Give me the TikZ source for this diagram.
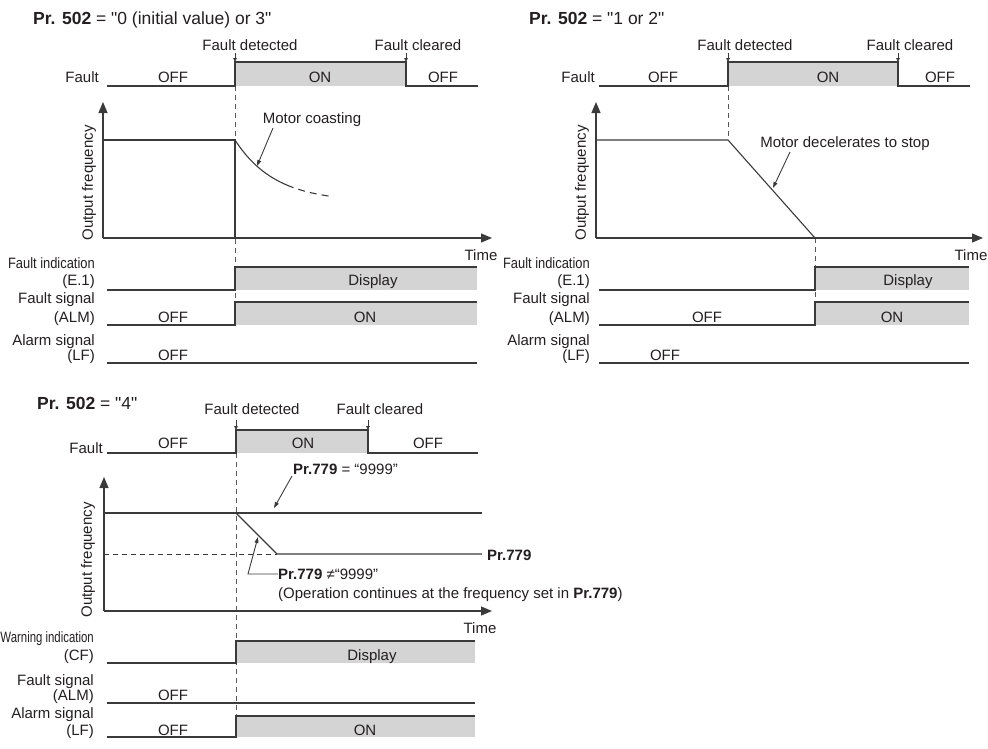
\documentclass[tikz,border=0pt]{standalone}
\usepackage{fontspec}
\setmainfont{Liberation Sans}[Ligatures=TeXOff]
\usetikzlibrary{arrows.meta}
\definecolor{lnc}{HTML}{3A3A3A}
\definecolor{sgc}{HTML}{D4D4D4}
\definecolor{txc}{HTML}{231F20}
\begin{document}
\begin{tikzpicture}[x=1pt,y=-1pt,
  font=\fontsize{15}{18}\selectfont, text=txc,
  ln/.style={draw=lnc, line width=1.1pt},
  dsh/.style={draw=lnc!85, line width=1pt, dash pattern=on 5pt off 4pt},
  axis/.style={draw=lnc, line width=1.2pt, -{Triangle[length=11pt,width=9pt]}},
  tickar/.style={draw=lnc, line width=0.8pt, -{Triangle[length=4pt,width=3.5pt]}},
  ann/.style={draw=lnc, line width=0.9pt, -{Triangle[length=6pt,width=4pt]}},
  lbl/.style={anchor=base east, inner sep=0pt},
  txt/.style={anchor=base, inner sep=0pt},
  ttl/.style={anchor=base west, inner sep=0pt, font=\fontsize{17.5}{20}\selectfont},
  ofl/.style={rotate=90, inner sep=0pt}]
\useasboundingbox (0,0) rectangle (988,748);

%================ Panel A: Pr.502 = 0 or 3 ================
\node[ttl] (a-title) at (33,24) {\textbf{Pr. 502} = "0 (initial value) or 3"};
\draw[dsh] (235,86) -- (235,302);
% Fault row
\fill[sgc] (235,62) rectangle (406,86);
\draw[ln] (107,86) -- (235,86) -- (235,62) -- (406,62) -- (406,86) -- (478,86);
\node[lbl] (a-fault) at (99,82) {Fault};
\node[txt] (a-off1) at (173,82) {OFF};
\node[txt] (a-on) at (320,82) {ON};
\node[txt] (a-off2) at (443,82) {OFF};
\node[txt] (a-fd) at (250,50) {Fault detected};
\node[txt] (a-fc) at (418,50) {Fault cleared};
\coordinate (a-fd1) at (235,53); \coordinate (a-fd2) at (235,62);
\coordinate (a-fc1) at (406,53); \coordinate (a-fc2) at (406,62);
\draw[tickar] (a-fd1) -- (a-fd2);
\draw[tickar] (a-fc1) -- (a-fc2);
% axes
\coordinate (a-o) at (103,238);
\coordinate (a-yt) at (103,102);
\coordinate (a-xt) at (492,238);
\draw[axis] (a-o) -- (a-yt);
\draw[axis] (a-o) -- (a-xt);
\draw[ln] (103,140) -- (235,140) -- (235,238);
\draw[ln] plot[domain=0:52, samples=40, variable=\t] ({235+\t},{140+62*(1-exp(-\t/40))});
\draw[draw=lnc, line width=1.1pt, dash pattern=on 7pt off 5pt] plot[domain=52:95, samples=20, variable=\t] ({235+\t},{140+62*(1-exp(-\t/40))});
\node[ofl] (a-of) at (89,183) {Output frequency};
\node[txt] (a-mc) at (312,123) {Motor coasting};
\coordinate (a-mc1) at (273,128); \coordinate (a-mc2) at (257,166);
\draw[ann] (a-mc1) -- (a-mc2);
\node[txt] (a-time) at (481,260) {Time};
% E.1 row
\fill[sgc] (235,267) rectangle (477,290);
\draw[ln] (107,290) -- (235,290) -- (235,267) -- (477,267);
\node[lbl] (a-fi) at (95,268) {\scalebox{0.86}[1]{Fault indication}};
\node[lbl] (a-e1) at (95,285) {(E.1)};
\node[txt] (a-disp) at (373,285) {Display};
% ALM row
\fill[sgc] (235,302) rectangle (477,325);
\draw[ln] (107,325) -- (235,325) -- (235,302) -- (477,302);
\node[lbl] (a-fs) at (95,303) {Fault signal};
\node[lbl] (a-alm) at (95,322) {(ALM)};
\node[txt] (a-aoff) at (173,322) {OFF};
\node[txt] (a-aon) at (365,322) {ON};
% LF row
\draw[ln] (107,363) -- (477,363);
\node[lbl] (a-as) at (95,345) {Alarm signal};
\node[lbl] (a-lf) at (95,360) {(LF)};
\node[txt] (a-loff) at (173,360) {OFF};

%================ Panel B: Pr.502 = 1 or 2 ================
\node[ttl] (b-title) at (529,24) {\textbf{Pr. 502} = "1 or 2"};
\draw[dsh] (728,86) -- (728,140);
\draw[dsh] (815,238) -- (815,302);
\fill[sgc] (728,62) rectangle (898,86);
\draw[ln] (599,86) -- (728,86) -- (728,62) -- (898,62) -- (898,86) -- (970,86);
\node[lbl] (b-fault) at (595,82) {Fault};
\node[txt] (b-off1) at (663,82) {OFF};
\node[txt] (b-on) at (828,82) {ON};
\node[txt] (b-off2) at (940,82) {OFF};
\node[txt] (b-fd) at (745,50) {Fault detected};
\node[txt] (b-fc) at (910,50) {Fault cleared};
\coordinate (b-fd1) at (728,53); \coordinate (b-fd2) at (728,62);
\coordinate (b-fc1) at (898,53); \coordinate (b-fc2) at (898,62);
\draw[tickar] (b-fd1) -- (b-fd2);
\draw[tickar] (b-fc1) -- (b-fc2);
\coordinate (b-o) at (596,238);
\coordinate (b-yt) at (596,102);
\coordinate (b-xt) at (983,238);
\draw[axis] (b-o) -- (b-yt);
\draw[axis] (b-o) -- (b-xt);
\draw[ln] (596,140) -- (728,140) -- (815,238);
\node[ofl] (b-of) at (582,183) {Output frequency};
\node[txt] (b-md) at (845,147) {Motor decelerates to stop};
\coordinate (b-md1) at (790,152); \coordinate (b-md2) at (773,188);
\draw[ann] (b-md1) -- (b-md2);
\node[txt] (b-time) at (971,260) {Time};
\fill[sgc] (815,267) rectangle (969,290);
\draw[ln] (599,290) -- (815,290) -- (815,267) -- (969,267);
\node[lbl] (b-fi) at (590,268) {\scalebox{0.86}[1]{Fault indication}};
\node[lbl] (b-e1) at (590,285) {(E.1)};
\node[txt] (b-disp) at (908,285) {Display};
\fill[sgc] (815,302) rectangle (969,325);
\draw[ln] (599,325) -- (815,325) -- (815,302) -- (969,302);
\node[lbl] (b-fs) at (590,303) {Fault signal};
\node[lbl] (b-alm) at (590,322) {(ALM)};
\node[txt] (b-aoff) at (707,322) {OFF};
\node[txt] (b-aon) at (892,322) {ON};
\draw[ln] (599,363) -- (969,363);
\node[lbl] (b-as) at (590,345) {Alarm signal};
\node[lbl] (b-lf) at (590,360) {(LF)};
\node[txt] (b-loff) at (665,360) {OFF};

%================ Panel C: Pr.502 = 4 ================
\node[ttl] (c-title) at (37,409) {\textbf{Pr. 502} = "4"};
\draw[dsh] (236,453) -- (236,716);
\fill[sgc] (236,430) rectangle (368,453);
\draw[ln] (107,453) -- (236,453) -- (236,430) -- (368,430) -- (368,453) -- (478,453);
\node[lbl] (c-fault) at (103,453) {Fault};
\node[txt] (c-off1) at (173,448) {OFF};
\node[txt] (c-on) at (303,448) {ON};
\node[txt] (c-off2) at (428,448) {OFF};
\node[txt] (c-fd) at (252,414) {Fault detected};
\node[txt] (c-fc) at (380,414) {Fault cleared};
\coordinate (c-fd1) at (236,420); \coordinate (c-fd2) at (236,430);
\coordinate (c-fc1) at (368,420); \coordinate (c-fc2) at (368,430);
\draw[tickar] (c-fd1) -- (c-fd2);
\draw[tickar] (c-fc1) -- (c-fc2);
\coordinate (c-o) at (104,611);
\coordinate (c-yt) at (104,477);
\coordinate (c-xt) at (492,611);
\draw[axis] (c-o) -- (c-yt);
\draw[axis] (c-o) -- (c-xt);
\draw[ln] (104,513) -- (482,513);
\draw[ln] (236,513) -- (277,554) -- (482,554);
\draw[draw=lnc, line width=1pt, dash pattern=on 5pt off 4pt] (104,554) -- (277,554);
\node[ofl] (c-of) at (88,560) {Output frequency};
\node[anchor=base west, inner sep=0pt] (c-p1) at (293,474) {\textbf{Pr.779} = “9999”};
\coordinate (c-p1a) at (292,476); \coordinate (c-p1b) at (274,508);
\draw[ann] (c-p1a) -- (c-p1b);
\node[anchor=base west, inner sep=0pt] (c-p2) at (487,560) {\textbf{Pr.779}};
\node[anchor=west, inner sep=0pt] (c-p3) at (278,574) {\textbf{Pr.779} ≠“9999”};
\coordinate (c-p3a) at (248,574); \coordinate (c-p3b) at (258,537);
\draw[ann] (c-p3.west) -- (c-p3a) -- (c-p3b);
\node[anchor=base west, inner sep=0pt] (c-op) at (278,598) {(Operation continues at the frequency set in \textbf{Pr.779})};
\node[txt] (c-time) at (480,633) {Time};
% CF row
\fill[sgc] (236,641) rectangle (475,663);
\draw[ln] (107,663) -- (236,663) -- (236,641) -- (475,641);
\node[lbl] (c-wi) at (94,642) {\scalebox{0.76}[1]{Warning indication}};
\node[lbl] (c-cf) at (94,660) {(CF)};
\node[txt] (c-disp) at (372,660) {Display};
% ALM row
\draw[ln] (107,703) -- (475,703);
\node[lbl] (c-fs) at (94,685) {Fault signal};
\node[lbl] (c-alm) at (94,700) {(ALM)};
\node[txt] (c-aoff) at (173,700) {OFF};
% LF row
\fill[sgc] (236,716) rectangle (475,737);
\draw[ln] (107,737) -- (236,737) -- (236,716) -- (475,716);
\node[lbl] (c-as) at (94,718) {Alarm signal};
\node[lbl] (c-lf) at (94,735) {(LF)};
\node[txt] (c-loff) at (173,735) {OFF};
\node[txt] (c-lon) at (365,735) {ON};
\end{tikzpicture}
\end{document}
